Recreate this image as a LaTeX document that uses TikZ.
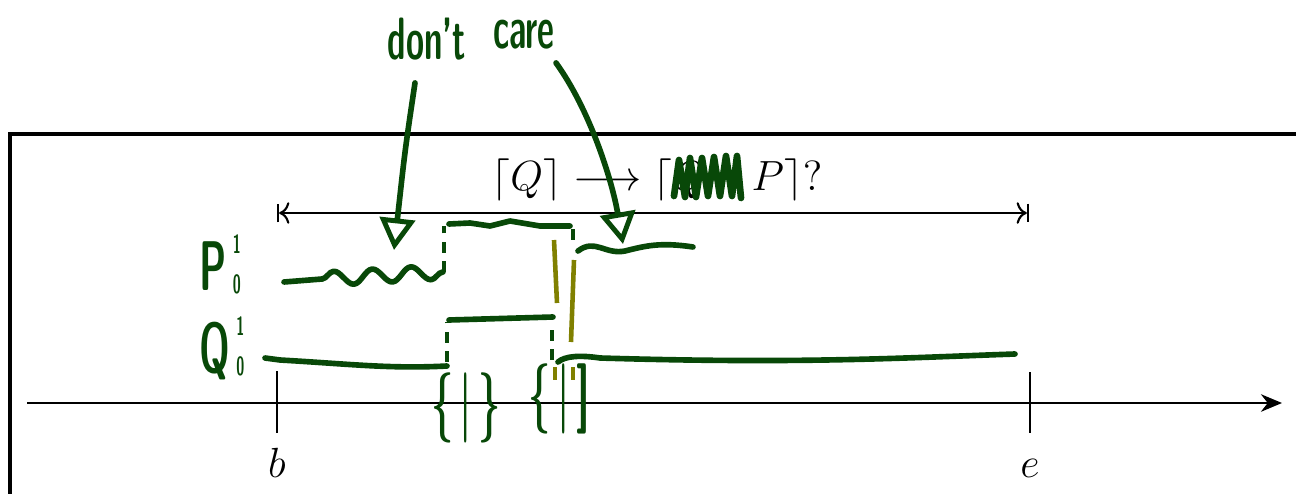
\documentclass[tikz,border=0pt]{standalone}
\usepackage{amsmath, amssymb}
\usepackage{graphicx}
\usetikzlibrary{arrows.meta, decorations.pathmorphing}
\definecolor{ink}{RGB}{8,72,8}
\definecolor{marker}{RGB}{128,128,0}
\newcommand{\hand}[1]{\scalebox{0.55}[1]{#1}}
\newcommand{\idx}[2]{\,\rlap{\raisebox{10.5pt}{\fontsize{7.5}{8}\selectfont #1}}\raisebox{-1pt}{\fontsize{7.5}{8}\selectfont #2}}
\tikzset{
pen/.style={draw=ink, line width=1.6pt, line cap=round, line join=round},
dots/.style={draw=ink, line width=0.9pt, dash pattern=on 3pt off 2.5pt},
bar/.style={draw=marker, line width=1.3pt},
scrawl/.style={text=ink, font=\fontsize{20}{22}\sffamily\bfseries\selectfont, inner sep=1pt},
pointer/.style={pen, -{Triangle[open, length=9pt, width=10pt, line width=1.4pt]}}
}

\begin{document}
\begin{tikzpicture}[x=0.01cm, y=-0.01cm]
\useasboundingbox (0,0) rectangle (1296,494);
\draw[line width=1.1pt] (10,520) -- (10,134) -- (1320,134);
\coordinate (a0) at (27,403);
\coordinate (a1) at (1282,403);
\draw[line width=0.6pt, -{Stealth[length=6pt, width=5pt]}] (a0) -- (a1);
\draw[line width=0.6pt] (277,371) -- (277,433) (1030,372) -- (1030,433);
\node[anchor=base, font=\fontsize{12.5}{15}\selectfont] (b) at (277,477) {$b$};
\node[anchor=base, font=\fontsize{12.5}{15}\selectfont] (e) at (1030,477) {$e$};
\coordinate (tb) at (277,213);
\coordinate (te) at (1029,213);
\draw[line width=0.6pt, |<->|] (tb) -- (te);
\node[font=\fontsize{13}{15}\selectfont] (claim) at (657,180)
  {$\lceil Q\rceil \longrightarrow \lceil Q \wedge P\rceil?$};
\draw[pen, line width=1.9pt] (674,196) -- (679,160) -- (685,197) -- (690,158) -- (696,197)
  -- (702,158) -- (708,196) -- (714,157) -- (720,196) -- (726,156) -- (732,196)
  -- (737,156) -- (741,198);

\node[scrawl, anchor=base, font=\fontsize{17}{20}\sffamily\bfseries\selectfont] (dont) at (427,60) {\hand{don't}};
\node[scrawl, anchor=base, font=\fontsize{17}{20}\sffamily\bfseries\selectfont] (care) at (524,48) {\hand{care}};
\coordinate (w0) at (394,250);
\coordinate (w1) at (623,244);
\draw[pointer] ([xshift=-0.12cm, yshift=-0.18cm]dont.south) .. controls (405,150) .. (w0);
\draw[pointer] ([xshift=0.32cm, yshift=-0.1cm]care.south) .. controls (590,110) and (612,180) .. (w1);

\node[scrawl, anchor=base west] (p) at (195,290) {\hand{P\idx{1}{0}}};
\node[scrawl, anchor=base west] (q) at (195,372) {\hand{Q\idx{1}{0}}};

\draw[pen] (284,282) -- (322,279);
\draw[pen, decorate, decoration={snake, amplitude=2pt, segment length=11pt}] (322,279) -- (443,272);
\draw[dots] (444,272) -- (444,226);
\draw[pen] (449,224) -- (470,223) -- (490,226) -- (510,221) -- (540,226) -- (570,226);
\draw[dots] (573,229) -- (573,246);
\draw[pen] (578,251) .. controls (595,238) and (605,255) .. (625,251)
  .. controls (645,246) and (660,242) .. (693,247);

\draw[pen] (265,358) -- (280,360) .. controls (350,364) and (390,369) .. (447,366);
\draw[dots] (447,362) -- (447,322);
\draw[pen] (449,320) -- (553,317);
\draw[dots] (552,330) -- (552,361);
\draw[pen] (558,362) .. controls (565,356) and (580,355) .. (600,358)
  .. controls (800,364) and (900,358) .. (1015,354);

\draw[bar] (554,240) -- (557,303);
\draw[bar] (574,260) -- (571,342);
\draw[bar] (555,367) -- (555,380) (573,367) -- (573,380);

\node[scrawl] (g0) at (466,408) {\hand{\{\,\textbar\,\}}};
\node[scrawl] (g1) at (559,399) {\hand{\{\,\textbar\,]}};
\end{tikzpicture}
\end{document}
